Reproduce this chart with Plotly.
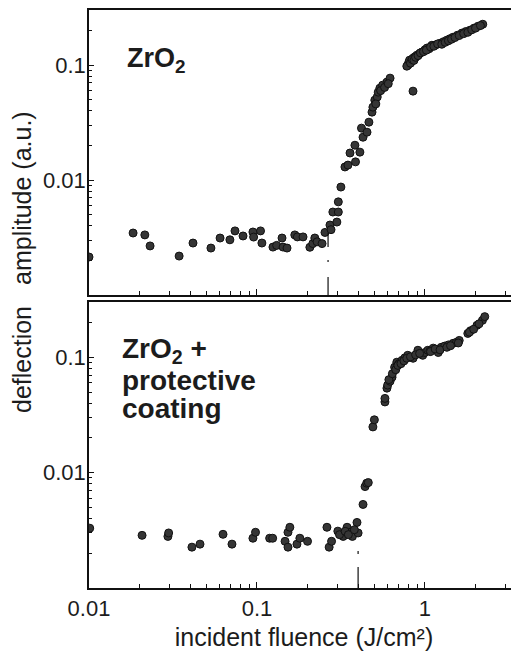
import plotly.graph_objects as go

# ---- data ----
top_x = [0.0100, 0.0183, 0.0215, 0.0231, 0.0344, 0.0416, 0.0532, 0.0603, 0.069, 0.074,
         0.0826, 0.0946, 0.0955, 0.107, 0.105, 0.1245, 0.131, 0.141, 0.143, 0.151,
         0.168, 0.174, 0.188, 0.2065, 0.215, 0.221, 0.228, 0.244, 0.254,
         0.272, 0.276, 0.283, 0.299, 0.305, 0.305, 0.316, 0.334, 0.348, 0.358,
         0.383, 0.386, 0.41, 0.419, 0.428, 0.452, 0.464, 0.484, 0.49, 0.503,
         0.52, 0.527, 0.539, 0.56, 0.594, 0.62, 0.849,
         0.792, 0.80, 0.81, 0.83, 0.849, 0.87, 0.895, 0.93, 0.96, 1.0, 1.03, 1.06,
         1.1, 1.16, 1.23, 1.29, 1.35, 1.41, 1.47, 1.56, 1.66, 1.75, 1.85, 1.96,
         2.07, 2.21,
         0.78, 0.82, 0.84, 0.86, 0.88, 0.91, 0.94, 0.98, 1.02, 1.08, 1.13, 1.19,
         1.26, 1.32, 1.38, 1.44, 1.51, 1.60, 1.70, 1.80, 1.90, 2.00, 2.14,
         0.51, 0.545, 0.575, 0.605]
top_y = [0.00214, 0.00346, 0.00333, 0.00267, 0.00218, 0.00283, 0.00256, 0.00313, 0.00302, 0.00361,
         0.00326, 0.00353, 0.00319, 0.00283, 0.00361, 0.00261, 0.0027, 0.00313, 0.00261, 0.00256,
         0.00333, 0.0032, 0.0032, 0.0026, 0.0028, 0.00313, 0.0029, 0.0028, 0.0035,
         0.00406, 0.0037, 0.00527, 0.00431, 0.00527, 0.00646, 0.00869, 0.013, 0.0135, 0.0172,
         0.0201, 0.0144, 0.0175, 0.0283, 0.0236, 0.0261, 0.0319, 0.039, 0.0431, 0.0496,
         0.0528, 0.0582, 0.063, 0.067, 0.0712, 0.0771, 0.0594,
         0.100, 0.105, 0.1105, 0.108, 0.115, 0.118, 0.122, 0.126, 0.130, 0.136, 0.141, 0.139,
         0.149, 0.150, 0.155, 0.160, 0.165, 0.170, 0.175, 0.182, 0.190, 0.196, 0.201, 0.210,
         0.218, 0.227,
         0.098, 0.104, 0.112, 0.110, 0.117, 0.121, 0.128, 0.131, 0.135, 0.144, 0.146, 0.153,
         0.152, 0.158, 0.163, 0.168, 0.174, 0.181, 0.188, 0.193, 0.203, 0.210, 0.221,
         0.046, 0.060, 0.064, 0.069]

bot_x = [0.0101, 0.0207, 0.0295, 0.0298, 0.041, 0.0458, 0.0628, 0.071, 0.0946, 0.098,
         0.119, 0.124, 0.147, 0.153, 0.157, 0.153, 0.173, 0.18, 0.2,
         0.261, 0.269, 0.278, 0.303, 0.326, 0.344, 0.358, 0.37, 0.394, 0.4,
         0.428, 0.44, 0.45, 0.46, 0.49, 0.5, 0.578, 0.578, 0.594, 0.6, 0.62, 0.637,
         0.66, 0.68, 0.70, 0.73, 0.76, 0.79, 0.85, 0.908, 0.97, 1.0, 1.04, 1.12, 1.2,
         1.25, 1.31, 1.38, 1.47, 1.54, 1.60, 1.8, 1.87, 2.04, 2.2, 2.27,
         0.61, 0.64, 0.67, 0.69, 0.72, 0.75, 0.78, 0.82, 0.88, 0.93, 1.07, 1.08, 1.15,
         1.23, 1.35, 1.42, 1.58, 1.84, 1.95, 2.10, 0.31, 0.335, 0.35, 0.38]
bot_y = [0.0033, 0.00286, 0.0028, 0.0030, 0.00226, 0.0024, 0.00292, 0.0024, 0.0027, 0.00304,
         0.0027, 0.0027, 0.00254, 0.00304, 0.00336, 0.00226, 0.0024, 0.0027, 0.00254,
         0.00336, 0.00226, 0.00254, 0.00311, 0.0028, 0.00336, 0.00304, 0.0028, 0.0037, 0.0030,
         0.0053, 0.00757, 0.0081, 0.0082, 0.0249, 0.0287, 0.041, 0.044, 0.054, 0.0574, 0.062, 0.0672,
         0.082, 0.0906, 0.088, 0.094, 0.099, 0.104, 0.098, 0.115, 0.104, 0.110, 0.115, 0.12, 0.11,
         0.122, 0.125, 0.128, 0.132, 0.135, 0.140, 0.161, 0.17, 0.189, 0.209, 0.225,
         0.064, 0.072, 0.078, 0.085, 0.088, 0.093, 0.098, 0.101, 0.105, 0.108, 0.113, 0.112, 0.118,
         0.116, 0.122, 0.126, 0.133, 0.165, 0.175, 0.195, 0.0029, 0.0031, 0.0029, 0.0032]

thresholds = [0.265, 0.40]          # damage thresholds (J/cm^2)
thr_y = [0.001, 0.0036]
x_ticks = [0.01, 0.1, 1]
x_tick_text = ["0.01", "0.1", "1"]
y_ticks = [0.01, 0.1]
y_tick_text = ["0.01", "0.1"]

FONT = "Liberation Sans, Arial, sans-serif"
INK = "#1c1c1c"

W, H = 519, 653
ML, MR, MT, MB = 81, 8, 2, 73
PW, PH = W - ML - MR, H - MT - MB

fig = go.Figure()
marker = dict(size=8, color="#353535", line=dict(color="#111111", width=1))
fig.add_trace(go.Scatter(x=top_x, y=top_y, mode="markers", marker=marker,
                         xaxis="x", yaxis="y", showlegend=False))
fig.add_trace(go.Scatter(x=bot_x, y=bot_y, mode="markers", marker=marker,
                         xaxis="x2", yaxis="y2", showlegend=False))

# threshold markers (dashed vertical)
fig.add_trace(go.Scatter(x=[thresholds[0]] * 2, y=thr_y, mode="lines",
                         line=dict(color="#111", width=1.2, dash="18px,15px,2px,13px,14px,400px"),
                         xaxis="x", yaxis="y", showlegend=False))
fig.add_trace(go.Scatter(x=[thresholds[1]] * 2, y=thr_y, mode="lines",
                         line=dict(color="#111", width=1.2, dash="21px,13px,3px,400px"),
                         xaxis="x2", yaxis="y2", showlegend=False))

minor_x = [m * 10 ** e for e in (-2, -1, 0) for m in range(2, 10)]
minor_y = [m * 10 ** e for e in (-3, -2, -1) for m in range(2, 10)]

xcommon = dict(type="log", range=[-2, 0.56], showline=True, linecolor="#111", linewidth=1.5,
               mirror=True, ticks="inside", ticklen=6, tickcolor="#111",
               tickvals=x_ticks, ticktext=x_tick_text, showgrid=False, zeroline=False,
               minor=dict(tickvals=minor_x, ticks="inside", ticklen=4, tickcolor="#111"),
               tickfont=dict(family=FONT, size=22, color=INK))
ycommon = dict(type="log", range=[-3, -0.52], showline=True, linecolor="#111", linewidth=1.5,
               mirror=False, ticks="inside", ticklen=5, tickcolor="#111",
               tickvals=y_ticks, ticktext=y_tick_text, showgrid=False, zeroline=False,
               ticklabelstandoff=-3,
               minor=dict(tickvals=minor_y, ticks="inside", ticklen=3, tickcolor="#111"),
               tickfont=dict(family=FONT, size=22, color=INK))

fig.update_layout(
    width=W, height=H,
    margin=dict(l=ML, r=MR, t=MT, b=MB, autoexpand=False),
    paper_bgcolor="white", plot_bgcolor="white",
    xaxis=dict(xcommon, anchor="y", showticklabels=False),
    yaxis=dict(ycommon, anchor="x", domain=[0.507, 1.0]),
    xaxis2=dict(xcommon, anchor="y2",
                title=dict(text="incident fluence (J/cm²)", standoff=8,
                           font=dict(family=FONT, size=25, color=INK))),
    yaxis2=dict(ycommon, anchor="x2", domain=[0.0, 0.495]),
)

ann_font = dict(family=FONT, size=28, color=INK)
fig.add_annotation(x=-1.786, y=-0.957, xref="x", yref="y", text="<b>ZrO<sub>2</sub></b>",
                   showarrow=False, xanchor="left", yanchor="middle",
                   font=dict(family=FONT, size=27, color=INK))
fig.add_annotation(x=-1.815, y=-0.94, xref="x2", yref="y2", text="<b>ZrO<sub>2</sub> +</b>",
                   showarrow=False, xanchor="left", yanchor="middle", font=ann_font)
fig.add_annotation(x=-1.815, y=-1.198, xref="x2", yref="y2", text="<b>protective</b>",
                   showarrow=False, xanchor="left", yanchor="middle", font=ann_font)
fig.add_annotation(x=-1.815, y=-1.44, xref="x2", yref="y2", text="<b>coating</b>",
                   showarrow=False, xanchor="left", yanchor="middle", font=ann_font)

# shared y-axis titles (positions in figure pixels -> paper coords)
title_font = dict(family=FONT, size=25, color=INK)
for txt, px, py in [("amplitude (a.u.)", 14, 190), ("deflection", 14, 352)]:
    fig.add_annotation(x=(px - ML) / PW, y=(H - MB - py) / PH, xref="paper", yref="paper",
                       text=txt, showarrow=False, textangle=-90,
                       xanchor="center", yanchor="middle", font=title_font)

fig.write_html("out.html")
